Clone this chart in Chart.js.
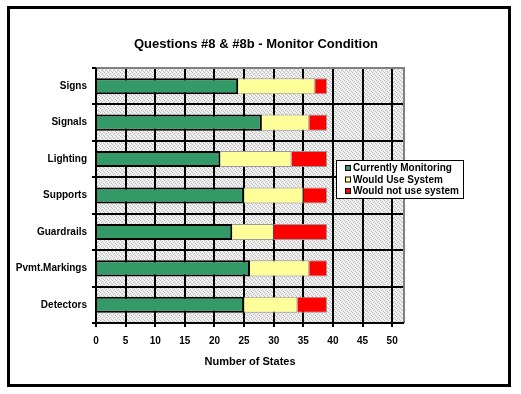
<!DOCTYPE html>
<html>
<head>
<meta charset="utf-8">
<script src="https://cdn.jsdelivr.net/npm/chart.js@4"></script>
<style>
  body { margin: 0; background: #fff; }
  #wrap { width: 521px; height: 394px; }
</style>
</head>
<body>
<div id="wrap"><canvas id="chart" width="521" height="394"></canvas></div>
<script>
const categories = ['Signs', 'Signals', 'Lighting', 'Supports', 'Guardrails', 'Pvmt.Markings', 'Detectors'];
const currentlyMonitoring = [24, 28, 21, 25, 23, 26, 25];
const wouldUseSystem = [13, 8, 12, 10, 7, 10, 9];
const wouldNotUse = [2, 3, 6, 4, 9, 3, 5];
const xTicks = [0, 5, 10, 15, 20, 25, 30, 35, 40, 45, 50];
const seriesNames = ['Currently Monitoring', 'Would Use System', 'Would not use system'];
const seriesColors = ['#339966', '#FFFF99', '#FF0000'];
const chartTitle = 'Questions #8 & #8b - Monitor Condition';
const fontFamily = '"Liberation Sans", Arial, sans-serif';

// stipple background for the plot area
function makePattern() {
    const c = document.createElement('canvas');
    c.width = 4; c.height = 4;
    const g = c.getContext('2d');
    g.fillStyle = '#ececec';
    g.fillRect(0, 0, 4, 4);
    g.fillStyle = '#bdbdbd';
    g.fillRect(0, 0, 1, 1); g.fillRect(2, 1, 1, 1);
    g.fillRect(1, 2, 1, 1); g.fillRect(3, 3, 1, 1);
    g.fillStyle = '#ffffff';
    g.fillRect(2, 0, 1, 1); g.fillRect(0, 2, 1, 1);
    return c;
}

const backdrop = {
    id: 'backdrop',
    beforeDraw(chart) {
        const ctx = chart.ctx;
        const a = chart.chartArea;
        ctx.save();
        ctx.fillStyle = ctx.createPattern(makePattern(), 'repeat');
        ctx.fillRect(a.left, a.top, a.right - a.left, a.bottom - a.top);
        ctx.restore();
    },
    afterDraw(chart) {
        const ctx = chart.ctx;
        const a = chart.chartArea;
        ctx.save();
        // title
        ctx.fillStyle = '#000';
        ctx.font = 'bold 13px ' + fontFamily;
        ctx.textAlign = 'center';
        ctx.textBaseline = 'middle';
        ctx.fillText(chartTitle, 256, 44);
        ctx.textAlign = 'left';
        // plot border
        ctx.strokeStyle = '#808080';
        ctx.lineWidth = 2;
        ctx.beginPath();
        ctx.moveTo(a.left, a.top);
        ctx.lineTo(a.right, a.top);
        ctx.lineTo(a.right, a.bottom);
        ctx.stroke();
        ctx.strokeStyle = '#000';
        ctx.beginPath();
        ctx.moveTo(a.left, a.top);
        ctx.lineTo(a.left, a.bottom);
        ctx.lineTo(a.right, a.bottom);
        ctx.stroke();
        // outer frame
        ctx.lineWidth = 3;
        ctx.strokeRect(8.5, 7.5, 501, 378);
        // legend box
        const lx = 336, ly = 160, lw = 127, lh = 38;
        ctx.fillStyle = '#fff';
        ctx.fillRect(lx, ly, lw, lh);
        ctx.lineWidth = 1;
        ctx.strokeStyle = '#000';
        ctx.strokeRect(lx + 0.5, ly + 0.5, lw, lh);
        ctx.font = 'bold 10px ' + fontFamily;
        seriesNames.forEach((name, i) => {
            const y = ly + 8 + i * 11.5;
            ctx.fillStyle = seriesColors[i];
            ctx.fillRect(lx + 9, y - 3, 6, 6);
            ctx.strokeStyle = '#000';
            ctx.strokeRect(lx + 9.5, y - 2.5, 5, 5);
            ctx.fillStyle = '#000';
            ctx.fillText(name, lx + 17, y + 0.5);
        });
        ctx.restore();
    }
};

const ctx = document.getElementById('chart').getContext('2d');
new Chart(ctx, {
    type: 'bar',
    data: {
        labels: categories,
        datasets: [
            {
                label: seriesNames[0],
                data: currentlyMonitoring,
                backgroundColor: seriesColors[0],
                borderColor: '#000',
                borderWidth: 2
            },
            {
                label: seriesNames[1],
                data: wouldUseSystem,
                backgroundColor: seriesColors[1],
                borderColor: '#999999',
                borderWidth: 1
            },
            {
                label: seriesNames[2],
                data: wouldNotUse,
                backgroundColor: seriesColors[2],
                borderColor: '#999999',
                borderWidth: 1
            }
        ]
    },
    options: {
        indexAxis: 'y',
        responsive: false,
        animation: false,
        categoryPercentage: 0.9,
        barPercentage: 0.49,
        layout: { padding: { left: 0, right: 117, top: 68, bottom: 21 } },
        plugins: {
            legend: { display: false },
            tooltip: { enabled: false },
            title: { display: false }
        },
        scales: {
            x: {
                stacked: true,
                min: 0,
                max: 52,
                afterBuildTicks(scale) {
                    scale.ticks = xTicks.map(v => ({ value: v }));
                },
                afterFit(scale) { scale.height = 50; },
                ticks: {
                    color: '#000',
                    padding: 8,
                    maxRotation: 0,
                    autoSkip: false,
                    font: { family: fontFamily, size: 10, weight: 'bold' }
                },
                grid: { color: '#000', lineWidth: 2, tickLength: 4 },
                border: { display: false },
                title: {
                    display: true,
                    text: 'Number of States',
                    color: '#000',
                    padding: { top: 11 },
                    font: { family: fontFamily, size: 11, weight: 'bold' }
                }
            },
            y: {
                stacked: true,
                afterFit(scale) { scale.width = 96; },
                ticks: {
                    color: '#000',
                    padding: 5,
                    font: { family: fontFamily, size: 10, weight: 'bold' }
                },
                grid: { color: '#000', lineWidth: 2, tickLength: 4, offset: true },
                border: { display: false }
            }
        }
    },
    plugins: [backdrop]
});
</script>
</body>
</html>
